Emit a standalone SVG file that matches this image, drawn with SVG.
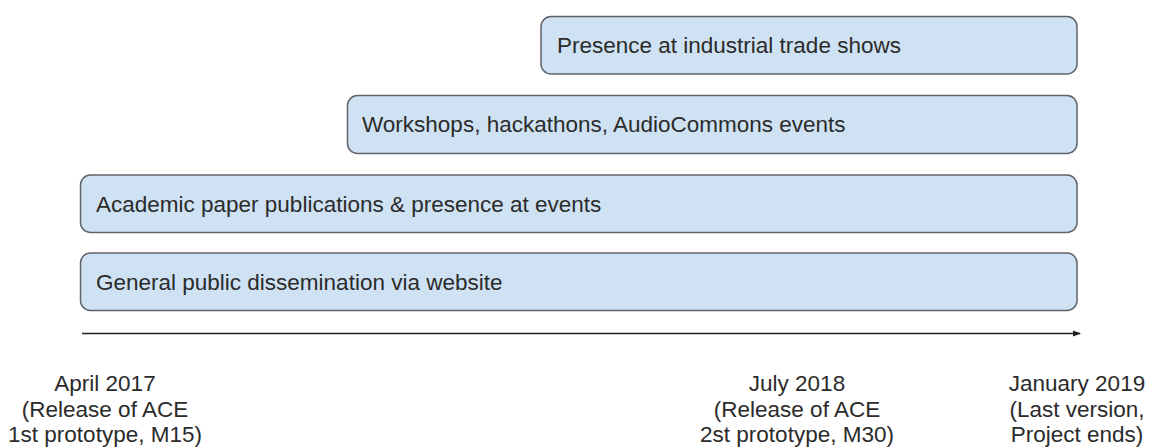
<svg xmlns="http://www.w3.org/2000/svg" width="1149" height="448" viewBox="0 0 1149 448">
  <style>
    .bar { fill: #cfe2f3; stroke: #5f6368; stroke-width: 1.5; }
    .lbl { font-family: "Liberation Sans", Arial, sans-serif; font-size: 22.5px; fill: #2b2b2b; }
    .date { font-family: "Liberation Sans", Arial, sans-serif; font-size: 22.5px; fill: #2b2b2b; text-anchor: middle; }
  </style>
  <defs>
    <marker id="arrow" markerWidth="8" markerHeight="8" refX="7" refY="4" orient="auto" markerUnits="userSpaceOnUse">
      <path d="M0,1 L8,4 L0,7 Z" fill="#222"/>
    </marker>
  </defs>
  <rect width="1149" height="448" fill="#ffffff"/>

  <g id="trade-shows">
    <rect class="bar" x="541" y="16.5" width="536" height="57.5" rx="10"/>
    <text class="lbl" x="557" y="53">Presence at industrial trade shows</text>
  </g>
  <g id="workshops">
    <rect class="bar" x="347.5" y="95.5" width="729.5" height="58" rx="10"/>
    <text class="lbl" x="362" y="132">Workshops, hackathons, AudioCommons events</text>
  </g>
  <g id="academic">
    <rect class="bar" x="80.5" y="175" width="996.5" height="57.5" rx="10"/>
    <text class="lbl" x="96" y="211.5">Academic paper publications &amp; presence at events</text>
  </g>
  <g id="website">
    <rect class="bar" x="80.5" y="253" width="996.5" height="57.5" rx="10"/>
    <text class="lbl" x="96" y="289.5">General public dissemination via website</text>
  </g>

  <g id="connectors">
    <line x1="82" y1="333.5" x2="1080" y2="333.5" stroke="#222" stroke-width="1.3" marker-end="url(#arrow)"/>
  </g>

  <g id="date-apr-2017">
    <text class="date" x="105" y="391">April 2017</text>
    <text class="date" x="105" y="416.5">(Release of ACE</text>
    <text class="date" x="105" y="442">1st prototype, M15)</text>
  </g>
  <g id="date-jul-2018">
    <text class="date" x="797" y="391">July 2018</text>
    <text class="date" x="797" y="416.5">(Release of ACE</text>
    <text class="date" x="797" y="442">2st prototype, M30)</text>
  </g>
  <g id="date-jan-2019">
    <text class="date" x="1077" y="391">January 2019</text>
    <text class="date" x="1077" y="416.5">(Last version,</text>
    <text class="date" x="1077" y="442">Project ends)</text>
  </g>
</svg>
